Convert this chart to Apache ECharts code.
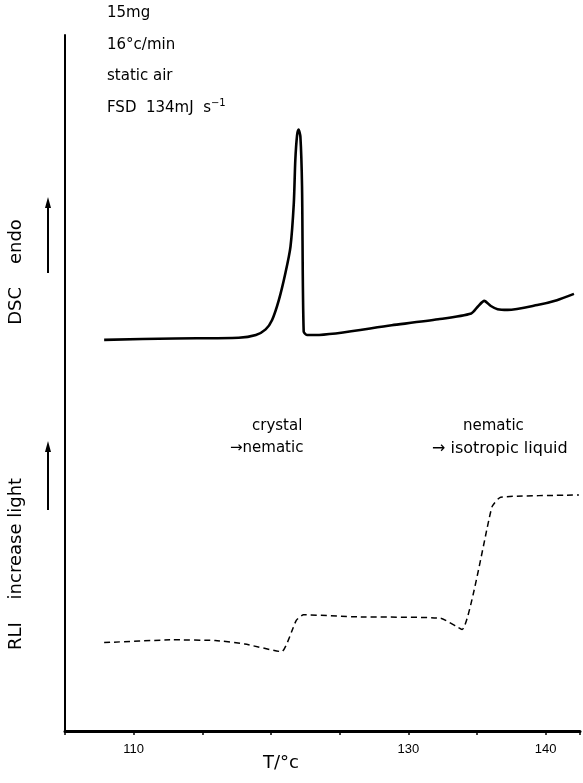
<!DOCTYPE html>
<html>
<head>
    <meta charset="utf-8">
    <title>DSC / RLI</title>
    <script src="https://cdn.jsdelivr.net/npm/echarts@6/dist/echarts.min.js"></script>
    <style>
        html, body { margin: 0; padding: 0; background: #fff; }
        #main { width: 583px; height: 783px; }
    </style>
</head>
<body>
<div id="main"></div>
<script>
    // DSC trace (temperature / arbitrary height)
    var dscTemp = [107.85, 113.01, 117.65, 118.90, 119.61, 120.08, 120.57, 121.05, 121.42, 121.66, 121.77, 121.90, 122.01, 122.14, 122.26, 122.38, 122.62, 123.23, 128.79, 132.17, 134.58, 135.05, 135.53, 136.01, 136.50, 137.23, 139.39, 140.82, 142.06];
    var dscVal  = [56.2, 56.4, 56.5, 56.9, 57.7, 59.05, 61.9, 65.8, 69.6, 75.8, 82.0, 85.6, 86.4, 85.4, 78.2, 57.4, 56.9, 56.9, 58.3, 59.15, 60.0, 60.96, 61.8, 61.06, 60.6, 60.5, 61.2, 61.9, 62.8];
    // RLI trace (reflected light intensity)
    var rliTemp = [107.85, 112.84, 115.95, 118.09, 120.77, 121.84, 122.37, 126.29, 132.35, 133.91, 136.09, 136.72, 142.42];
    var rliVal  = [12.7, 13.1, 13.0, 12.5, 11.4, 15.9, 16.7, 16.4, 16.2, 14.6, 32.2, 33.6, 33.9];
    // x tick labels that are printed
    var xLabels = [110, 130, 140];

    function pairs(xs, ys) {
        var out = [];
        for (var i = 0; i < xs.length; i++) out.push([xs[i], ys[i]]);
        return out;
    }

    var font = 'DejaVu Sans';
    var txt = function (x, y, s, size) {
        return {
            type: 'text', left: x, top: y,
            style: { text: s, font: (size || 15) + 'px "' + font + '"', fill: '#000' }
        };
    };

    var chart = echarts.init(document.getElementById('main'));
    chart.setOption({
        animation: false,
        backgroundColor: '#fff',
        grid: { left: 65, right: 0, top: 35, bottom: 52 },
        xAxis: {
            type: 'value', min: 105, max: 142.5, interval: 5,
            axisLine: { lineStyle: { color: '#000', width: 3 } },
            axisTick: { show: true, length: 4, lineStyle: { color: '#000', width: 1.5 } },
            splitLine: { show: false },
            axisLabel: {
                color: '#000', fontFamily: '"Liberation Sans Narrow", "Liberation Sans"', fontSize: 13, margin: 12,
                formatter: function (v) { return xLabels.indexOf(v) >= 0 ? String(v) : ''; }
            }
        },
        yAxis: {
            type: 'value', min: 0, max: 100,
            axisLine: { show: true, lineStyle: { color: '#000', width: 2 } },
            axisTick: { show: false }, axisLabel: { show: false }, splitLine: { show: false }
        },
        series: [
            {
                name: 'DSC', type: 'line', symbol: 'none', data: pairs(dscTemp, dscVal),
                smooth: 0.25,
                lineStyle: { color: '#000', width: 2.6 }
            },
            {
                name: 'RLI', type: 'line', symbol: 'none', data: pairs(rliTemp, rliVal),
                smooth: 0.15,
                lineStyle: { color: '#000', width: 1.5, type: [6, 4] }
            }
        ],
        graphic: [
            txt(107, 6, '15mg'),
            txt(107, 38, '16°c/min'),
            txt(107, 69, 'static air'),
            {
                type: 'text', left: 107, top: 98,
                style: {
                    text: '{a|FSD  134mJ  s}{s|−1}',
                    rich: {
                        a: { font: '15px "' + font + '"', fill: '#000', verticalAlign: 'bottom' },
                        s: { font: '10px "' + font + '"', fill: '#000', padding: [0, 0, 8, 0] }
                    }
                }
            },
            txt(252, 419, 'crystal'),
            txt(230, 441, '→nematic'),
            txt(463, 419, 'nematic'),
            txt(432, 441, '→ isotropic liquid', 16),
            // rotated axis captions
            {
                type: 'text', x: 16, y: 272, rotation: Math.PI / 2,
                style: { text: 'DSC    endo', font: '18px "' + font + '"', fill: '#000', align: 'center', verticalAlign: 'middle' }
            },
            {
                type: 'text', x: 16, y: 564, rotation: Math.PI / 2,
                style: { text: 'RLI    increase light', font: '18px "' + font + '"', fill: '#000', align: 'center', verticalAlign: 'middle' }
            },
            txt(263, 754, 'T/°c', 18),
            // upward arrows
            { type: 'line', shape: { x1: 48, y1: 273, x2: 48, y2: 206 }, style: { stroke: '#000', lineWidth: 2 } },
            { type: 'polygon', shape: { points: [[48, 197], [45, 208], [51, 208]] }, style: { fill: '#000' } },
            { type: 'line', shape: { x1: 48, y1: 510, x2: 48, y2: 451 }, style: { stroke: '#000', lineWidth: 2 } },
            { type: 'polygon', shape: { points: [[48, 441], [45, 452], [51, 452]] }, style: { fill: '#000' } }
        ]
    });
</script>
</body>
</html>
